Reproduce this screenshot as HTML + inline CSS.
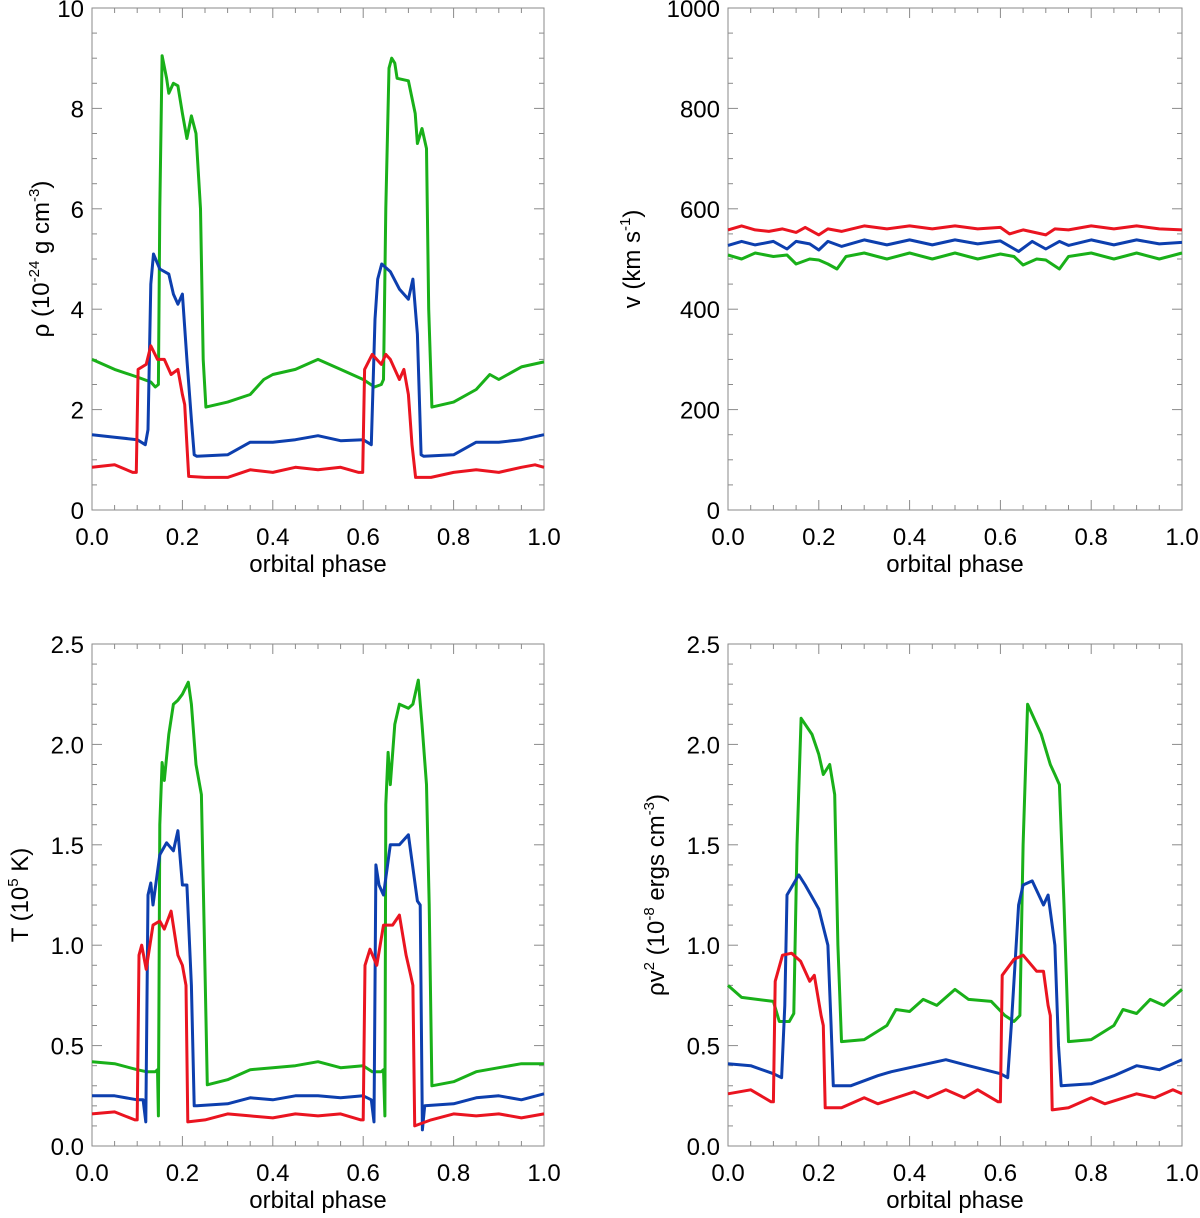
<!DOCTYPE html>
<html><head><meta charset="utf-8">
<style>
html,body{margin:0;padding:0;background:#fff;}
svg{display:block;font-family:"Liberation Sans",Helvetica,Arial,sans-serif;}
</style></head>
<body>
<svg id="fig" width="1200" height="1218" viewBox="0 0 1200 1218" xmlns="http://www.w3.org/2000/svg"></svg>
<script>
// ---------- data ----------
const xTicks = [0.0, 0.2, 0.4, 0.6, 0.8, 1.0];
const xTickLabels = ["0.0","0.2","0.4","0.6","0.8","1.0"];

// Panel 1: density
const rhoTicks = [0,2,4,6,8,10];
const rhoTickLabels = ["0","2","4","6","8","10"];
const rhoGreenX = [0,0.05,0.1,0.13,0.14,0.147,0.15,0.155,0.165,0.17,0.18,0.19,0.2,0.21,0.22,0.23,0.24,0.246,0.252,0.3,0.35,0.38,0.4,0.45,0.5,0.55,0.6,0.625,0.64,0.645,0.65,0.657,0.663,0.67,0.675,0.7,0.715,0.72,0.73,0.74,0.745,0.752,0.8,0.85,0.88,0.9,0.95,1.0];
const rhoGreenY = [3.0,2.8,2.65,2.55,2.45,2.5,6.0,9.05,8.6,8.3,8.5,8.45,7.9,7.4,7.85,7.5,6.0,3.0,2.05,2.15,2.3,2.6,2.7,2.8,3.0,2.8,2.6,2.45,2.5,2.6,6.0,8.8,9.0,8.9,8.6,8.55,7.9,7.3,7.6,7.2,4.0,2.05,2.15,2.4,2.7,2.6,2.85,2.95];
const rhoBlueX = [0,0.05,0.1,0.118,0.124,0.13,0.136,0.15,0.17,0.18,0.19,0.2,0.21,0.22,0.226,0.232,0.3,0.35,0.4,0.45,0.5,0.55,0.6,0.618,0.626,0.632,0.641,0.66,0.68,0.7,0.71,0.72,0.728,0.734,0.8,0.85,0.9,0.95,1.0];
const rhoBlueY = [1.5,1.45,1.4,1.3,1.6,4.5,5.1,4.8,4.7,4.3,4.1,4.3,3.0,1.8,1.1,1.07,1.1,1.35,1.35,1.4,1.48,1.38,1.4,1.3,3.8,4.6,4.9,4.75,4.4,4.2,4.6,3.5,1.1,1.07,1.1,1.35,1.35,1.4,1.5];
const rhoRedX = [0,0.05,0.09,0.098,0.102,0.12,0.13,0.145,0.16,0.175,0.19,0.2,0.205,0.21,0.214,0.25,0.3,0.35,0.4,0.45,0.5,0.55,0.59,0.599,0.603,0.62,0.64,0.65,0.66,0.68,0.69,0.7,0.708,0.716,0.75,0.8,0.85,0.9,0.95,0.98,1.0];
const rhoRedY = [0.85,0.9,0.75,0.75,2.8,2.9,3.27,3.0,3.0,2.7,2.8,2.3,2.1,1.3,0.67,0.65,0.65,0.8,0.75,0.85,0.8,0.85,0.75,0.75,2.8,3.1,2.9,3.1,3.0,2.6,2.8,2.3,1.3,0.65,0.65,0.75,0.8,0.75,0.85,0.9,0.85];

// Panel 2: velocity
const vTicks = [0,200,400,600,800,1000];
const vTickLabels = ["0","200","400","600","800","1000"];
const vRedX = [0,0.03,0.06,0.09,0.12,0.15,0.17,0.2,0.22,0.25,0.3,0.35,0.4,0.45,0.5,0.55,0.6,0.62,0.65,0.7,0.72,0.75,0.8,0.85,0.9,0.95,1.0];
const vRedY = [558,566,558,555,560,553,563,548,560,555,566,560,566,560,566,560,563,550,558,548,560,558,566,560,566,560,558];
const vBlueX = [0,0.03,0.06,0.1,0.13,0.15,0.18,0.2,0.22,0.25,0.3,0.35,0.4,0.45,0.5,0.55,0.6,0.64,0.67,0.7,0.73,0.75,0.8,0.85,0.9,0.95,1.0];
const vBlueY = [527,535,528,535,520,535,530,518,535,525,538,528,538,528,538,530,536,515,535,520,535,527,538,528,538,530,533];
const vGreenX = [0,0.03,0.06,0.1,0.13,0.15,0.18,0.2,0.22,0.24,0.26,0.3,0.35,0.4,0.45,0.5,0.55,0.6,0.63,0.65,0.68,0.7,0.73,0.75,0.8,0.85,0.9,0.95,1.0];
const vGreenY = [508,500,512,505,508,490,500,498,490,480,505,512,500,512,500,512,500,510,505,488,500,498,480,505,512,500,512,500,512];

// Panel 3: temperature
const tTicks = [0,0.5,1.0,1.5,2.0,2.5];
const tTickLabels = ["0.0","0.5","1.0","1.5","2.0","2.5"];
const tGreenX = [0,0.05,0.1,0.12,0.14,0.145,0.147,0.15,0.155,0.16,0.17,0.18,0.19,0.2,0.213,0.22,0.23,0.242,0.248,0.255,0.3,0.35,0.4,0.45,0.5,0.55,0.6,0.62,0.64,0.645,0.648,0.65,0.655,0.66,0.67,0.68,0.7,0.71,0.722,0.73,0.74,0.746,0.752,0.8,0.85,0.9,0.95,1.0];
const tGreenY = [0.42,0.41,0.38,0.37,0.37,0.38,0.15,1.6,1.91,1.82,2.05,2.2,2.22,2.25,2.31,2.2,1.9,1.75,1.1,0.305,0.33,0.38,0.39,0.4,0.42,0.39,0.4,0.37,0.37,0.38,0.15,1.7,1.96,1.8,2.1,2.2,2.18,2.2,2.32,2.1,1.8,1.2,0.3,0.32,0.37,0.39,0.41,0.41];
const tBlueX = [0,0.05,0.1,0.113,0.119,0.124,0.13,0.135,0.15,0.165,0.18,0.19,0.2,0.21,0.22,0.226,0.232,0.3,0.35,0.4,0.45,0.5,0.55,0.6,0.618,0.624,0.628,0.635,0.645,0.66,0.68,0.7,0.72,0.726,0.731,0.736,0.8,0.85,0.9,0.95,1.0];
const tBlueY = [0.25,0.25,0.23,0.23,0.12,1.25,1.31,1.2,1.45,1.51,1.47,1.57,1.3,1.3,0.8,0.2,0.2,0.21,0.24,0.23,0.25,0.25,0.24,0.25,0.23,0.12,1.4,1.3,1.25,1.5,1.5,1.55,1.22,1.2,0.08,0.2,0.21,0.24,0.25,0.23,0.26];
const tRedX = [0,0.05,0.095,0.1,0.104,0.11,0.12,0.135,0.15,0.16,0.175,0.19,0.2,0.208,0.212,0.25,0.3,0.35,0.4,0.45,0.5,0.55,0.595,0.6,0.604,0.615,0.63,0.645,0.665,0.68,0.695,0.705,0.71,0.714,0.75,0.8,0.85,0.9,0.95,1.0];
const tRedY = [0.16,0.17,0.13,0.13,0.95,1.0,0.88,1.1,1.12,1.08,1.17,0.95,0.9,0.8,0.12,0.13,0.16,0.15,0.14,0.16,0.15,0.16,0.13,0.13,0.9,0.98,0.9,1.1,1.1,1.15,0.95,0.85,0.8,0.1,0.13,0.16,0.15,0.16,0.14,0.16];

// Panel 4: ram pressure
const pTicks = [0,0.5,1.0,1.5,2.0,2.5];
const pTickLabels = ["0.0","0.5","1.0","1.5","2.0","2.5"];
const pGreenX = [0,0.03,0.1,0.113,0.135,0.145,0.152,0.161,0.185,0.2,0.21,0.224,0.235,0.242,0.25,0.3,0.35,0.37,0.4,0.43,0.46,0.5,0.53,0.58,0.61,0.63,0.643,0.65,0.66,0.69,0.71,0.72,0.73,0.74,0.75,0.8,0.85,0.87,0.9,0.93,0.96,1.0];
const pGreenY = [0.8,0.74,0.72,0.62,0.62,0.66,1.5,2.13,2.05,1.95,1.85,1.9,1.75,1.0,0.52,0.53,0.6,0.68,0.67,0.73,0.7,0.78,0.73,0.72,0.65,0.62,0.65,1.5,2.2,2.05,1.9,1.85,1.8,1.2,0.52,0.53,0.6,0.68,0.66,0.73,0.7,0.78];
const pBlueX = [0,0.05,0.1,0.118,0.125,0.13,0.156,0.17,0.19,0.2,0.22,0.227,0.232,0.27,0.33,0.36,0.42,0.48,0.53,0.6,0.616,0.624,0.64,0.65,0.67,0.695,0.705,0.72,0.728,0.734,0.8,0.85,0.9,0.95,1.0];
const pBlueY = [0.41,0.4,0.36,0.34,0.7,1.25,1.35,1.3,1.22,1.18,1.0,0.6,0.3,0.3,0.35,0.37,0.4,0.43,0.4,0.36,0.34,0.6,1.2,1.3,1.32,1.2,1.25,1.0,0.5,0.3,0.31,0.35,0.4,0.38,0.43];
const pRedX = [0,0.05,0.095,0.1,0.104,0.12,0.14,0.16,0.18,0.19,0.205,0.21,0.214,0.25,0.3,0.33,0.41,0.44,0.48,0.52,0.55,0.595,0.6,0.604,0.63,0.65,0.68,0.695,0.705,0.71,0.714,0.75,0.8,0.83,0.9,0.94,0.98,1.0];
const pRedY = [0.26,0.28,0.22,0.22,0.82,0.95,0.96,0.92,0.82,0.85,0.65,0.6,0.19,0.19,0.24,0.21,0.27,0.24,0.28,0.24,0.28,0.22,0.22,0.85,0.93,0.95,0.87,0.87,0.7,0.65,0.18,0.19,0.24,0.21,0.26,0.24,0.28,0.26];

// ---------- rendering ----------
const NS = "http://www.w3.org/2000/svg";
const svg = document.getElementById("fig");
const GREEN = "#19b019", BLUE = "#0d3fae", RED = "#ea1420";

function mk(tag, attrs, parent) {
  const e = document.createElementNS(NS, tag);
  for (const k in attrs) e.setAttribute(k, attrs[k]);
  (parent || svg).appendChild(e);
  return e;
}

function panel(p) {
  const g = mk("g", {});
  
  
  const L = p.x0, R = p.x1, T = p.y0, B = p.y1;
  const sx = v => L + v * (R - L);
  const sy = v => B - (v - p.ymin) / (p.ymax - p.ymin) * (B - T);

  const frame = mk("rect", {x:L, y:T, width:R-L, height:B-T, fill:"none", stroke:"#8a8a8a", "stroke-width":1}, g);
  
  

  for (let i = 0; i <= 20; i++) {
    const v = i * 0.05, X = sx(v), len = (i % 4 === 0) ? 10 : 5;
    mk("line", {x1:X, x2:X, y1:B, y2:B-len, stroke:"#8a8a8a", "stroke-width":1}, g);
    mk("line", {x1:X, x2:X, y1:T, y2:T+len, stroke:"#8a8a8a", "stroke-width":1}, g);
  }
  xTicks.forEach((v, i) => {
    const t = mk("text", {x:sx(v), y:B+35, "font-size":24, "text-anchor":"middle", fill:"#000"}, g);
    t.textContent = xTickLabels[i];
    
    
  });
  const nMinor = p.minorPerMajor;
  const step = (p.yticks[1] - p.yticks[0]) / nMinor;
  const nTot = Math.round((p.ymax - p.ymin) / step);
  for (let i = 0; i <= nTot; i++) {
    const Y = sy(p.ymin + i * step), len = (i % nMinor === 0) ? 10 : 5;
    mk("line", {x1:L, x2:L+len, y1:Y, y2:Y, stroke:"#8a8a8a", "stroke-width":1}, g);
    mk("line", {x1:R, x2:R-len, y1:Y, y2:Y, stroke:"#8a8a8a", "stroke-width":1}, g);
  }
  p.yticks.forEach((v, i) => {
    const t = mk("text", {x:L-8, y:sy(v)+9, "font-size":24, "text-anchor":"end", fill:"#000"}, g);
    t.textContent = p.ylabels[i];
    
    
  });
  const xt = mk("text", {x:(L+R)/2, y:B+62, "font-size":24, "text-anchor":"middle", fill:"#000"}, g);
  xt.textContent = "orbital phase";
  
  
  const yt = mk("text", {x:0, y:0, "font-size":24, "text-anchor":"middle", fill:"#000",
    transform:"translate(" + p.ytx + "," + ((T+B)/2) + ") rotate(-90)"}, g);
  yt.innerHTML = p.ytitle;
  
  

  p.series.forEach(s => {
    const pts = s.xs.map((x, i) => sx(x).toFixed(1) + "," + sy(s.ys[i]).toFixed(1)).join(" ");
    const pl = mk("polyline", {points:pts, fill:"none", stroke:s.color, "stroke-width":3, "stroke-linejoin":"round"}, g);
    
    
  });
}

const sup = s => '<tspan dy="-10" font-size="15">' + s + '</tspan><tspan dy="10">';
panel({name:"density-panel", x0:92, x1:544, y0:8, y1:510, ymin:0, ymax:10, yticks:rhoTicks, ylabels:rhoTickLabels, minorPerMajor:4, ytx:49,
  ytitle:'ρ (10' + sup('-24') + ' g cm' + sup('-3') + ')</tspan></tspan>',
  series:[{name:"density-green-line", xs:rhoGreenX, ys:rhoGreenY, color:GREEN},
          {name:"density-blue-line", xs:rhoBlueX, ys:rhoBlueY, color:BLUE},
          {name:"density-red-line", xs:rhoRedX, ys:rhoRedY, color:RED}]});
panel({name:"velocity-panel", x0:728, x1:1182, y0:8, y1:510, ymin:0, ymax:1000, yticks:vTicks, ylabels:vTickLabels, minorPerMajor:4, ytx:640,
  ytitle:'v (km s' + sup('-1') + ')</tspan>',
  series:[{name:"velocity-red-line", xs:vRedX, ys:vRedY, color:RED},
          {name:"velocity-blue-line", xs:vBlueX, ys:vBlueY, color:BLUE},
          {name:"velocity-green-line", xs:vGreenX, ys:vGreenY, color:GREEN}]});
panel({name:"temperature-panel", x0:92, x1:544, y0:644, y1:1146, ymin:0, ymax:2.5, yticks:tTicks, ylabels:tTickLabels, minorPerMajor:5, ytx:28,
  ytitle:'T (10' + sup('5') + ' K)</tspan>',
  series:[{name:"temperature-green-line", xs:tGreenX, ys:tGreenY, color:GREEN},
          {name:"temperature-blue-line", xs:tBlueX, ys:tBlueY, color:BLUE},
          {name:"temperature-red-line", xs:tRedX, ys:tRedY, color:RED}]});
panel({name:"ram-pressure-panel", x0:728, x1:1182, y0:644, y1:1146, ymin:0, ymax:2.5, yticks:pTicks, ylabels:pTickLabels, minorPerMajor:5, ytx:664,
  ytitle:'ρv' + sup('2') + ' (10' + sup('-8') + ' ergs cm' + sup('-3') + ')</tspan></tspan></tspan>',
  series:[{name:"ram-pressure-green-line", xs:pGreenX, ys:pGreenY, color:GREEN},
          {name:"ram-pressure-blue-line", xs:pBlueX, ys:pBlueY, color:BLUE},
          {name:"ram-pressure-red-line", xs:pRedX, ys:pRedY, color:RED}]});
</script>
</body></html>
